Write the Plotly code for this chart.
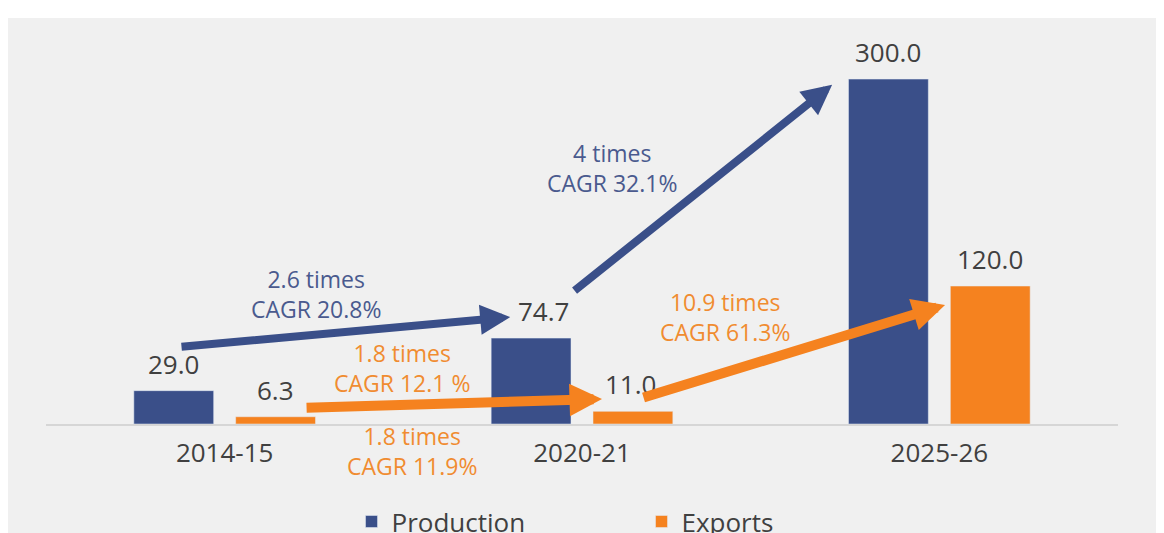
import plotly.graph_objects as go

# ---- data ----
years = ["2014-15", "2020-21", "2025-26"]
production = [29.0, 74.7, 300.0]
exports = [6.3, 11.0, 120.0]

# growth annotations (text, x index, y value)
prod_notes = [("2.6 times<br>CAGR 20.8%", 0.256, 113), ("4 times<br>CAGR 32.1%", 1.084, 223)]
exp_notes = [("1.8 times<br>CAGR 12.1 %", 0.496, 49), ("10.9 times<br>CAGR 61.3%", 1.40, 93)]
# note placed below the axis (text, x index, paper y)
exp_note_below = ("1.8 times<br>CAGR 11.9%", 0.524, -0.07)

# growth arrows (tail x, tail y, head x, head y)
prod_arrows = [(-0.125, 67, 0.799, 93), (0.975, 115, 1.70, 295)]
exp_arrows = [(0.225, 14, 1.056, 21.7), (1.168, 22.6, 2.016, 103.5)]

BLUE = "#3A4F89"
ORANGE = "#F5821F"
BLUE_TXT = "#4A5A8E"
ORANGE_TXT = "#F08C30"
GREY_TXT = "#404040"
FONT = "Open Sans"

fig = go.Figure()
fig.add_bar(x=years, y=production, name="Production", marker_color=BLUE)
fig.add_bar(x=years, y=exports, name="Exports", marker_color=ORANGE)

ann = []
# value labels (extra horizontal nudge per label keeps them clear of arrows)
prod_nudge = [0, 12, 0]
exp_nudge = [0, -3, 0]
for vals, dx, nudge in ((production, -51, prod_nudge), (exports, 51, exp_nudge)):
    for yr, v, n in zip(years, vals, nudge):
        ann.append(dict(x=yr, y=v, text=f"{v:.1f}", showarrow=False, xshift=dx + n, yshift=27,
                        yanchor="middle", font=dict(family=FONT, size=26, color=GREY_TXT)))
for txt, x, y in prod_notes:
    ann.append(dict(x=x, y=y, text=txt, showarrow=False, font=dict(family=FONT, size=23, color=BLUE_TXT)))
for txt, x, y in exp_notes:
    ann.append(dict(x=x, y=y, text=txt, showarrow=False, font=dict(family=FONT, size=23, color=ORANGE_TXT)))
txt, x, y = exp_note_below
ann.append(dict(x=x, y=y, xref="x", yref="paper", text=txt, showarrow=False,
                xanchor="center", yanchor="middle",
                font=dict(family=FONT, size=23, color=ORANGE_TXT)))
for arrows, col, w, s in ((prod_arrows, BLUE, 8, 0.75), (exp_arrows, ORANGE, 10, 0.65)):
    for tx, ty, hx, hy in arrows:
        ann.append(dict(x=hx, y=hy, ax=tx, ay=ty, xref="x", yref="y", axref="x", ayref="y",
                        text="", showarrow=True, arrowhead=2, arrowsize=s, arrowwidth=w,
                        arrowcolor=col, standoff=0))

fig.update_layout(
    width=1164, height=533,
    margin=dict(l=46, r=46, t=40, b=109, autoexpand=False),
    paper_bgcolor="white", plot_bgcolor="rgba(0,0,0,0)",
    barmode="group", bargap=0.43, bargroupgap=0.216,
    font=dict(family=FONT, color=GREY_TXT),
    showlegend=True,
    legend=dict(orientation="h", x=0.285, xanchor="left", y=-0.193, yanchor="top",
                font=dict(family=FONT, size=26, color=GREY_TXT),
                entrywidth=245, bgcolor="rgba(0,0,0,0)"),
    annotations=ann,
    shapes=[dict(type="rect", xref="paper", yref="paper", x0=-0.0355, x1=1.0355,
                 y0=-0.3, y1=1.057, fillcolor="#F0F0F0", line_width=0, layer="below")],
)
fig.update_xaxes(type="category", showline=True, linecolor="#D6D6D6", linewidth=2,
                 showgrid=False, ticks="outside", ticklen=5, tickcolor="rgba(0,0,0,0)",
                 tickfont=dict(family=FONT, size=26, color=GREY_TXT), fixedrange=True)
fig.update_yaxes(range=[0, 334], visible=False, showgrid=False, zeroline=False, fixedrange=True)

fig.write_html("out.html")
